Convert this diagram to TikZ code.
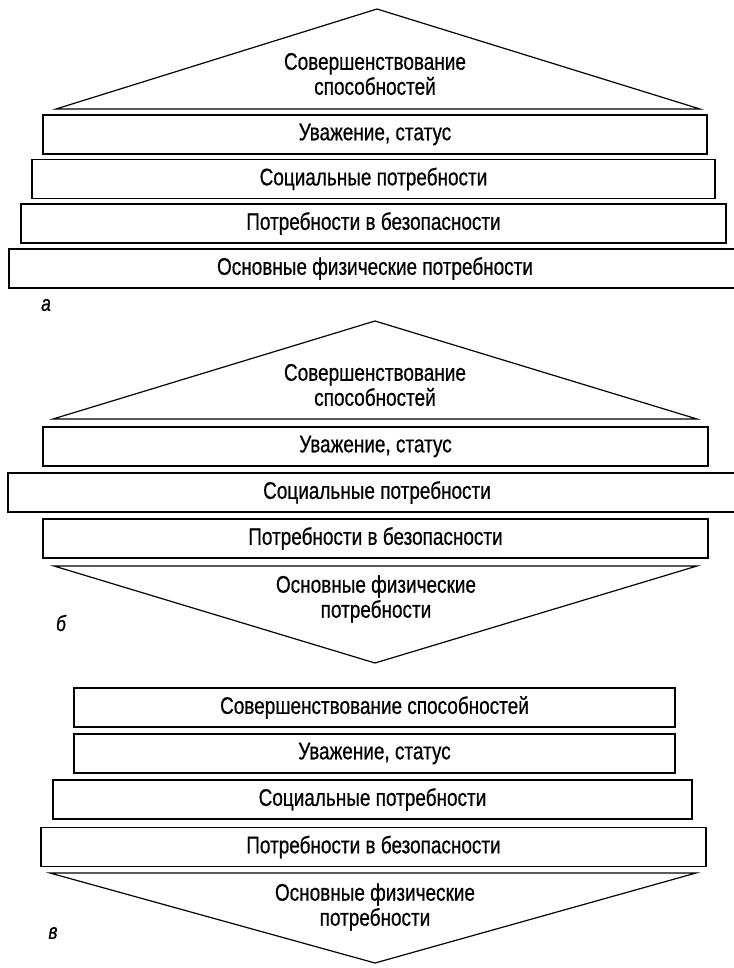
\documentclass[tikz,border=0pt]{standalone}
\usepackage{fontspec}
\newfontfamily\narrowfont[FakeStretch=0.79,FakeBold=0.6]{Liberation Sans}
\usetikzlibrary{positioning}
\begin{document}
\begin{tikzpicture}[x=1pt,y=-1pt,line width=1.2pt,outer sep=0pt,inner sep=0pt,
    layer/.style={draw, rectangle, minimum height=39pt, font=\narrowfont\fontsize{24}{25}\selectfont},
    roof/.style={align=center, font=\narrowfont\fontsize{24}{25}\selectfont},
    tag/.style={font=\narrowfont\itshape\fontsize{22}{24}\selectfont}]
    \useasboundingbox (0,0) rectangle (733,968);
    % a
    \coordinate (aT) at (377,9);
    \coordinate (aL) at (56,109);
    \coordinate (aR) at (700,109);
    \draw (aL) -- (aT) -- (aR) -- cycle;
    \node[roof] (a0) at (375,74) {Совершенствование\\способностей};
    \node[layer, minimum width=664pt] (a1) at (375,134.5) {Уважение, статус};
    \node[layer, minimum width=683pt] (a2) at (373.5,179) {Социальные потребности};
    \node[layer, minimum width=705pt] (a3) at (373.5,223.5) {Потребности в безопасности};
    \node[layer, minimum width=731pt] (a4) at (374.5,268.5) {};
    \node[font=\narrowfont\fontsize{24}{25}\selectfont] (a4t) at (375,268.5) {Основные физические потребности};
    \node[tag] (la) at (46,305) {а};
    % b
    \coordinate (bT) at (375,321);
    \coordinate (bL) at (53,419);
    \coordinate (bR) at (697,419);
    \draw (bL) -- (bT) -- (bR) -- cycle;
    \node[roof] (b0) at (375,385) {Совершенствование\\способностей};
    \node[layer, minimum width=665pt] (b1) at (375.5,446.5) {Уважение, статус};
    \node[layer, minimum width=732pt] (b2) at (374,492.5) {};
    \node[font=\narrowfont\fontsize{24}{25}\selectfont] (b2t) at (377,492.5) {Социальные потребности};
    \node[layer, minimum width=665pt] (b3) at (375.5,538.5) {Потребности в безопасности};
    \coordinate (bB) at (375,663);
    \coordinate (bBL) at (54,566);
    \coordinate (bBR) at (697,566);
    \draw (bBL) -- (bB) -- (bBR) -- cycle;
    \node[roof] (b4) at (376,599) {Основные физические\\потребности};
    \node[tag] (lb) at (61,623) {б};
    % c
    \node[layer, minimum width=601pt] (c1) at (374.5,707.5) {Совершенствование способностей};
    \node[layer, minimum width=601pt] (c2) at (374.5,753.5) {Уважение, статус};
    \node[layer, minimum width=639pt] (c3) at (372.5,799.5) {Социальные потребности};
    \node[layer, minimum width=665pt] (c4) at (373.5,847) {Потребности в безопасности};
    \coordinate (cB) at (375,963);
    \coordinate (cL) at (50,873);
    \coordinate (cR) at (696,873);
    \draw (cL) -- (cB) -- (cR) -- cycle;
    \node[roof] (c5) at (375,907) {Основные физические\\потребности};
    \node[tag] (lc) at (53,933) {в};
\end{tikzpicture}
\end{document}
